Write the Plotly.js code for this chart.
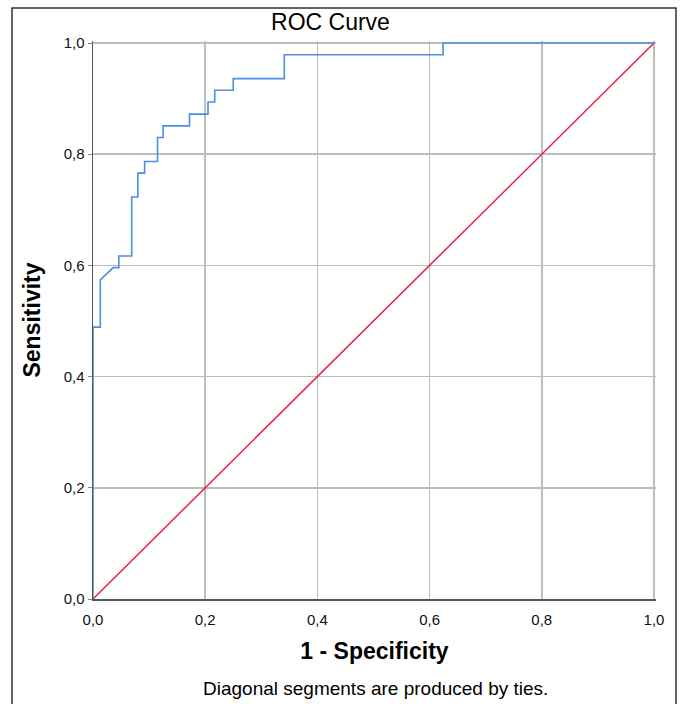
<!DOCTYPE html>
<html>
<head>
<meta charset="utf-8">
<script src="https://cdn.plot.ly/plotly-3.0.1.min.js"></script>
<style>
html,body{margin:0;padding:0;background:#fff;}
#chart{width:680px;height:704px;}
</style>
</head>
<body>
<div id="chart"></div>
<script>
// ROC curve vertices (1 - Specificity, Sensitivity)
const fpr = [0, 0, 0.013, 0.013, 0.036, 0.046, 0.046, 0.069, 0.069, 0.080, 0.080, 0.092, 0.092, 0.115, 0.115, 0.125, 0.125, 0.172, 0.172, 0.205, 0.205, 0.217, 0.217, 0.250, 0.250, 0.341, 0.341, 0.624, 0.624, 1.0];
const tpr = [0, 0.489, 0.489, 0.574, 0.596, 0.596, 0.617, 0.617, 0.723, 0.723, 0.766, 0.766, 0.787, 0.787, 0.830, 0.830, 0.851, 0.851, 0.872, 0.872, 0.894, 0.894, 0.915, 0.915, 0.936, 0.936, 0.979, 0.979, 1.0, 1.0];
// Reference line
const refX = [0, 1];
const refY = [0, 1];
const tickVals = [0, 0.2, 0.4, 0.6, 0.8, 1.0];
const tickText = ["0,0", "0,2", "0,4", "0,6", "0,8", "1,0"];

const FONT = "Liberation Sans, Arial, sans-serif";

const traces = [
  {x: refX, y: refY, mode: "lines", line: {color: "#e8213c", width: 1.5}, hoverinfo: "skip"},
  {x: fpr, y: tpr, mode: "lines", line: {color: "#4a8fe0", width: 1.6}, hoverinfo: "skip"}
];

const layout = {
  width: 680, height: 704,
  margin: {l: 93, r: 24, t: 41, b: 105},
  paper_bgcolor: "#fff", plot_bgcolor: "#fff",
  showlegend: false,
  font: {family: FONT, color: "#111", size: 15},
  title: {text: "ROC Curve", x: 0.486, xref: "container", xanchor: "center", y: 1 - 22/704, yref: "container", yanchor: "middle",
          font: {family: FONT, size: 23, color: "#000"}},
  xaxis: {
    range: [0, 1.0036], tickvals: tickVals, ticktext: tickText, showgrid: true, gridcolor: "#bdbdbd", gridwidth: 1.5,
    zeroline: false, showline: true, linecolor: "#555", linewidth: 1.5, ticks: "", mirror: false,
    ticklabelstandoff: 6,
    tickfont: {family: FONT, size: 15, color: "#111"},
    title: {text: "<b>1 - Specificity</b>", font: {family: FONT, size: 23, color: "#000"}, standoff: 16}
  },
  yaxis: {
    range: [0, 1.0036], tickvals: tickVals, ticktext: tickText, showgrid: true, gridcolor: "#bdbdbd", gridwidth: 1.5,
    zeroline: false, showline: true, linecolor: "#555", linewidth: 1.5, ticks: "outside", ticklen: 4, tickcolor: "#888",
    tickfont: {family: FONT, size: 15, color: "#111"},
    title: {text: "<b>Sensitivity</b>", font: {family: FONT, size: 23, color: "#000"}, standoff: 16}
  },
  shapes: [
    {type: "rect", xref: "paper", yref: "paper", x0: (12-93)/563, x1: (676-93)/563, y0: (599-720)/558, y1: (599-8)/558,
     line: {color: "#333", width: 1.5}, fillcolor: "rgba(0,0,0,0)", layer: "below"}
  ],
  annotations: [
    {text: "Diagonal segments are produced by ties.", xref: "paper", yref: "paper", x: (376-93)/563, y: (599-688)/558,
     xanchor: "center", yanchor: "middle", showarrow: false, font: {family: FONT, size: 19, color: "#000"}}
  ]
};

Plotly.newPlot("chart", traces, layout, {staticPlot: true, displayModeBar: false});
</script>
</body>
</html>
